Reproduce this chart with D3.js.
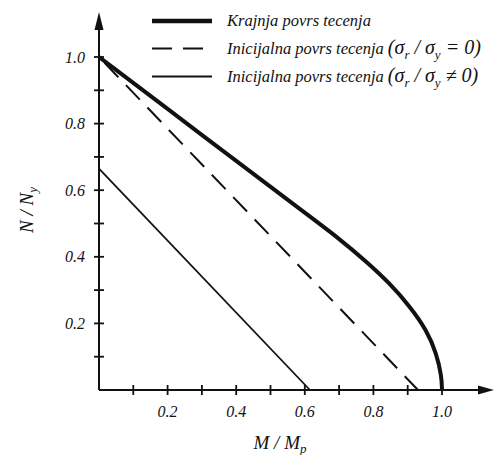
<!DOCTYPE html>
<html>
<head>
<meta charset="utf-8">
<script src="https://cdn.jsdelivr.net/npm/d3@7"></script>
<style>
  body { margin: 0; background: #fff; }
</style>
</head>
<body>
<svg></svg>
<script>
// données
const krajnjaM = [0, 0.2, 0.4, 0.6, 0.7, 0.78, 0.848, 0.907, 0.955, 0.984, 0.999, 1.0];
const krajnjaN = [1, 0.844, 0.688, 0.532, 0.455, 0.385, 0.32, 0.25, 0.18, 0.11, 0.04, 0];
const inicijalnaM = [0, 0.93];
const inicijalnaN = [1, 0];
const rezidualM = [0, 0.615];
const rezidualN = [0.665, 0];

const xTicks = d3.range(1, 11).map(d => d / 10);
const yTicks = d3.range(1, 11).map(d => d / 10);
const xLabels = [0.2, 0.4, 0.6, 0.8, 1.0];
const yLabels = [0.2, 0.4, 0.6, 0.8, 1.0];

const width = 494, height = 455;
const FONT = "Liberation Serif";
const svg = d3.select("svg").attr("width", width).attr("height", height);

// texte italique serif
function txt(sel, size) {
    return sel.attr("font-family", FONT).attr("font-style", "italic")
        .attr("font-size", size).attr("fill", "#111");
}

const x = d3.scaleLinear().domain([0, 1]).range([99, 442]);
const y = d3.scaleLinear().domain([0, 1]).range([390, 57]);

// axes
svg.append("line").attr("x1", x(0)).attr("x2", 482).attr("y1", y(0)).attr("y2", y(0))
    .attr("stroke", "#111").attr("stroke-width", 2);
svg.append("line").attr("x1", x(0)).attr("x2", x(0)).attr("y1", y(0)).attr("y2", 26)
    .attr("stroke", "#111").attr("stroke-width", 2);
svg.append("path").attr("d", "M494,390 L478,385.5 L478,394.5 Z").attr("fill", "#111");
svg.append("path").attr("d", "M99,12 L94.5,30 L103.5,30 Z").attr("fill", "#111");

// ticks
svg.append("g").selectAll("line").data(xTicks).join("line")
    .attr("x1", d => x(d)).attr("x2", d => x(d))
    .attr("y1", y(0) - 5).attr("y2", y(0) + 5)
    .attr("stroke", "#111").attr("stroke-width", 1.8);
svg.append("g").selectAll("line").data(yTicks).join("line")
    .attr("x1", x(0) - 5).attr("x2", x(0) + 5)
    .attr("y1", d => y(d)).attr("y2", d => y(d))
    .attr("stroke", "#111").attr("stroke-width", 1.8);

txt(svg.append("g").selectAll("text").data(xLabels).join("text"), 16)
    .attr("x", d => x(d)).attr("y", 417)
    .attr("text-anchor", "middle")
    .text(d => d.toFixed(1));
txt(svg.append("g").selectAll("text").data(yLabels).join("text"), 16)
    .attr("x", 85).attr("y", d => y(d) + 5.5)
    .attr("text-anchor", "end")
    .text(d => d.toFixed(1));

// titres des axes
const xt = txt(svg.append("text"), 19).attr("x", 280).attr("y", 449)
    .attr("text-anchor", "middle");
xt.append("tspan").text("M / M");
xt.append("tspan").attr("font-size", 13).attr("dy", 4).text("p");

const yt = txt(svg.append("text"), 19)
    .attr("transform", "translate(33,210) rotate(-90)")
    .attr("text-anchor", "middle");
yt.append("tspan").text("N / N");
yt.append("tspan").attr("font-size", 13).attr("dy", 4).text("y");

// courbes
const line = d3.line().x(d => x(d[0])).y(d => y(d[1]));
svg.append("path")
    .attr("d", line.curve(d3.curveBasis)(d3.zip(krajnjaM, krajnjaN)))
    .attr("fill", "none").attr("stroke", "#111").attr("stroke-width", 4);
svg.append("path")
    .attr("d", line.curve(d3.curveLinear)(d3.zip(inicijalnaM, inicijalnaN)))
    .attr("fill", "none").attr("stroke", "#111").attr("stroke-width", 2)
    .attr("stroke-dasharray", "20,11").attr("stroke-dashoffset", -8);
svg.append("path")
    .attr("d", line(d3.zip(rezidualM, rezidualN)))
    .attr("fill", "none").attr("stroke", "#111").attr("stroke-width", 1.8);

// légende
const legend = [
    { width: 4.5, dash: null },
    { width: 2, dash: "20,11" },
    { width: 2, dash: null }
];
const ly = [21, 48.5, 76.5];
legend.forEach((l, i) => {
    svg.append("line").attr("x1", 152).attr("x2", 212).attr("y1", ly[i]).attr("y2", ly[i])
        .attr("stroke", "#111").attr("stroke-width", l.width)
        .attr("stroke-dasharray", l.dash);
});

txt(svg.append("text"), 16.5).attr("x", 227).attr("y", 26).text("Krajnja povrs tecenja");

function sigmaLabel(yPos, rel) {
    const t = txt(svg.append("text"), 16.5).attr("x", 227).attr("y", yPos);
    t.append("tspan").text("Inicijalna povrs tecenja ");
    t.append("tspan").attr("font-size", 20).text("(σ");
    t.append("tspan").attr("font-size", 13).attr("dy", 5).text("r");
    t.append("tspan").attr("font-size", 20).attr("dy", -5).text(" / σ");
    t.append("tspan").attr("font-size", 13).attr("dy", 5).text("y");
    t.append("tspan").attr("font-size", 20).attr("dy", -5).text(" " + rel + " 0)");
}
sigmaLabel(54, "=");
sigmaLabel(82, "≠");
</script>
</body>
</html>
